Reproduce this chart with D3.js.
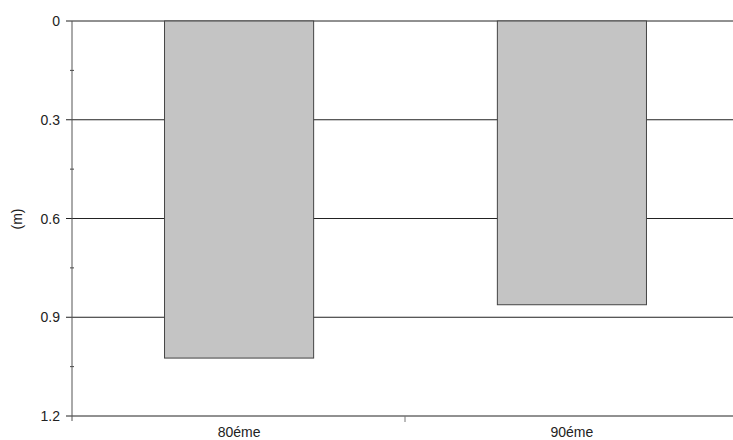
<!DOCTYPE html><html><head><meta charset="utf-8"><script src="https://cdn.jsdelivr.net/npm/d3@7"></script>
<style>body{margin:0;background:#fff}text{font-family:Arial,"Liberation Sans",sans-serif;font-size:14px;fill:#222}</style></head><body>
<svg id="c" width="733" height="440"></svg>
<script>
const categories=["80éme","90éme"];
const values=[1.024,0.862];
const yTicks=[0,0.3,0.6,0.9,1.2];
const minorTicks=[0.15,0.45,0.75,1.05];
const svg=d3.select("#c");
const L=72,R=733,T=21,B=416;
const y=d3.scaleLinear().domain([0,1.2]).range([T,B]);
const x=d3.scaleBand().domain(categories).range([L,739]).paddingInner(0.552).paddingOuter(0.278);
const g=svg.append("g");
g.selectAll(".grid").data(yTicks).join("line").attr("x1",L-6).attr("x2",R).attr("y1",d=>y(d)).attr("y2",d=>y(d)).attr("stroke","#222").attr("stroke-width",1);
g.selectAll(".minor").data(minorTicks).join("line").attr("x1",L-2).attr("x2",L+2).attr("y1",d=>y(d)).attr("y2",d=>y(d)).attr("stroke","#444");
g.append("line").attr("x1",L).attr("x2",L).attr("y1",T).attr("y2",B+5).attr("stroke","#555");
g.append("line").attr("x1",405).attr("x2",405).attr("y1",B).attr("y2",B+6).attr("stroke","#777");
g.selectAll(".bar").data(values).join("rect").attr("x",(d,i)=>x(categories[i])).attr("width",x.bandwidth()).attr("y",y(0)).attr("height",d=>y(d)-y(0)).attr("fill","#c4c4c4").attr("stroke","#444").attr("stroke-width",1);
g.selectAll(".yl").data(yTicks).join("text").attr("x",L-12).attr("y",d=>y(d)+5).attr("text-anchor","end").text(d=>d===0?"0":d.toFixed(1));
g.selectAll(".xl").data(categories).join("text").attr("x",d=>x(d)+x.bandwidth()/2).attr("y",437).attr("text-anchor","middle").text(d=>d);
svg.append("text").attr("transform","translate(22,219) rotate(-90)").attr("text-anchor","middle").text("(m)");
</script></body></html>
